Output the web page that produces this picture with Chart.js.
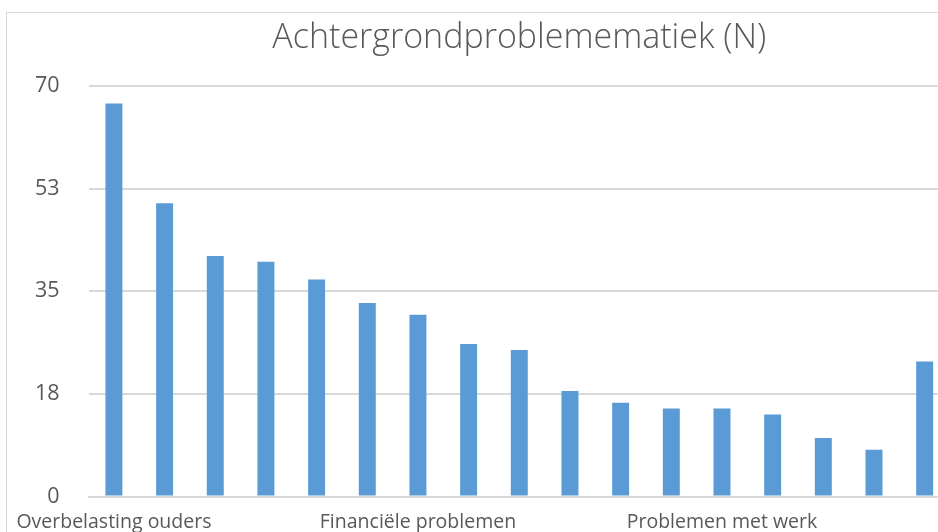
<!DOCTYPE html>
<html>
<head>
<meta charset="utf-8">
<script src="https://cdn.jsdelivr.net/npm/chart.js@4"></script>
<style>
  html, body { margin: 0; padding: 0; background: #fff; overflow: hidden; }
  #frame { position: absolute; left: 6px; top: 12px; width: 1100px; height: 700px; border: 1px solid #d9d9d9; }
  #chart { position: absolute; left: 0; top: 0; }
</style>
</head>
<body>
<div id="frame"></div>
<canvas id="chart" width="950" height="548"></canvas>
<script>
// Data (only every 6th category name is readable in the picture)
const categories = [
  'Overbelasting ouders', '', '', '', '', '',
  'Financiële problemen', '', '', '', '', '',
  'Problemen met werk', '', '', '', ''
];
const counts = [67, 50, 41, 40, 37, 33, 31, 26, 25, 18, 16, 15, 15, 14, 10, 8, 23];
const yTicks = [0, 17.5, 35, 52.5, 70];

const textColor = '#595959';
const fontFamily = '"Open Sans", "Noto Sans", sans-serif';

// keep long first/last labels from pushing the plot area inwards
const noOverhang = (axis) => {
  axis.paddingLeft = 0;
  axis.paddingRight = 0;
  axis.paddingTop = 0;
  axis.paddingBottom = 0;
};

const ctx = document.getElementById('chart').getContext('2d');
new Chart(ctx, {
  type: 'bar',
  data: {
    labels: categories,
    datasets: [
      {
        label: 'Achtergrondproblemematiek (N)',
        data: counts,
        backgroundColor: '#5b9bd5',
        barPercentage: 0.67,
        categoryPercentage: 0.5,
      },
    ],
  },
  options: {
    responsive: false,
    animation: false,
    layout: {
      padding: { left: 6, right: 0, top: 0, bottom: 0 },
    },
    plugins: {
      legend: { display: false },
      tooltip: { enabled: false },
      title: {
        display: true,
        text: 'Achtergrondproblemematiek (N)',
        fullSize: false,
        color: textColor,
        font: { family: fontFamily, size: 34, weight: '300' },
        padding: { top: 18, bottom: 27 },
      },
    },
    scales: {
      x: {
        afterFit: noOverhang,
        grid: { display: false, drawTicks: false },
        border: { display: true, color: '#d9d9d9', width: 2 },
        ticks: {
          autoSkip: false,
          maxRotation: 0,
          color: textColor,
          padding: 14,
          font: { family: fontFamily, size: 19.5 },
        },
      },
      y: {
        min: 0,
        max: 70,
        afterFit: noOverhang,
        afterBuildTicks: (axis) => {
          axis.ticks = yTicks.map((v) => ({ value: v }));
        },
        grid: { color: '#d9d9d9', lineWidth: 2, drawTicks: false },
        border: { display: false },
        ticks: {
          color: textColor,
          padding: 29,
          font: { family: fontFamily, size: 21.5 },
          callback: (v) => Math.round(v),
        },
      },
    },
  },
});
</script>
</body>
</html>
